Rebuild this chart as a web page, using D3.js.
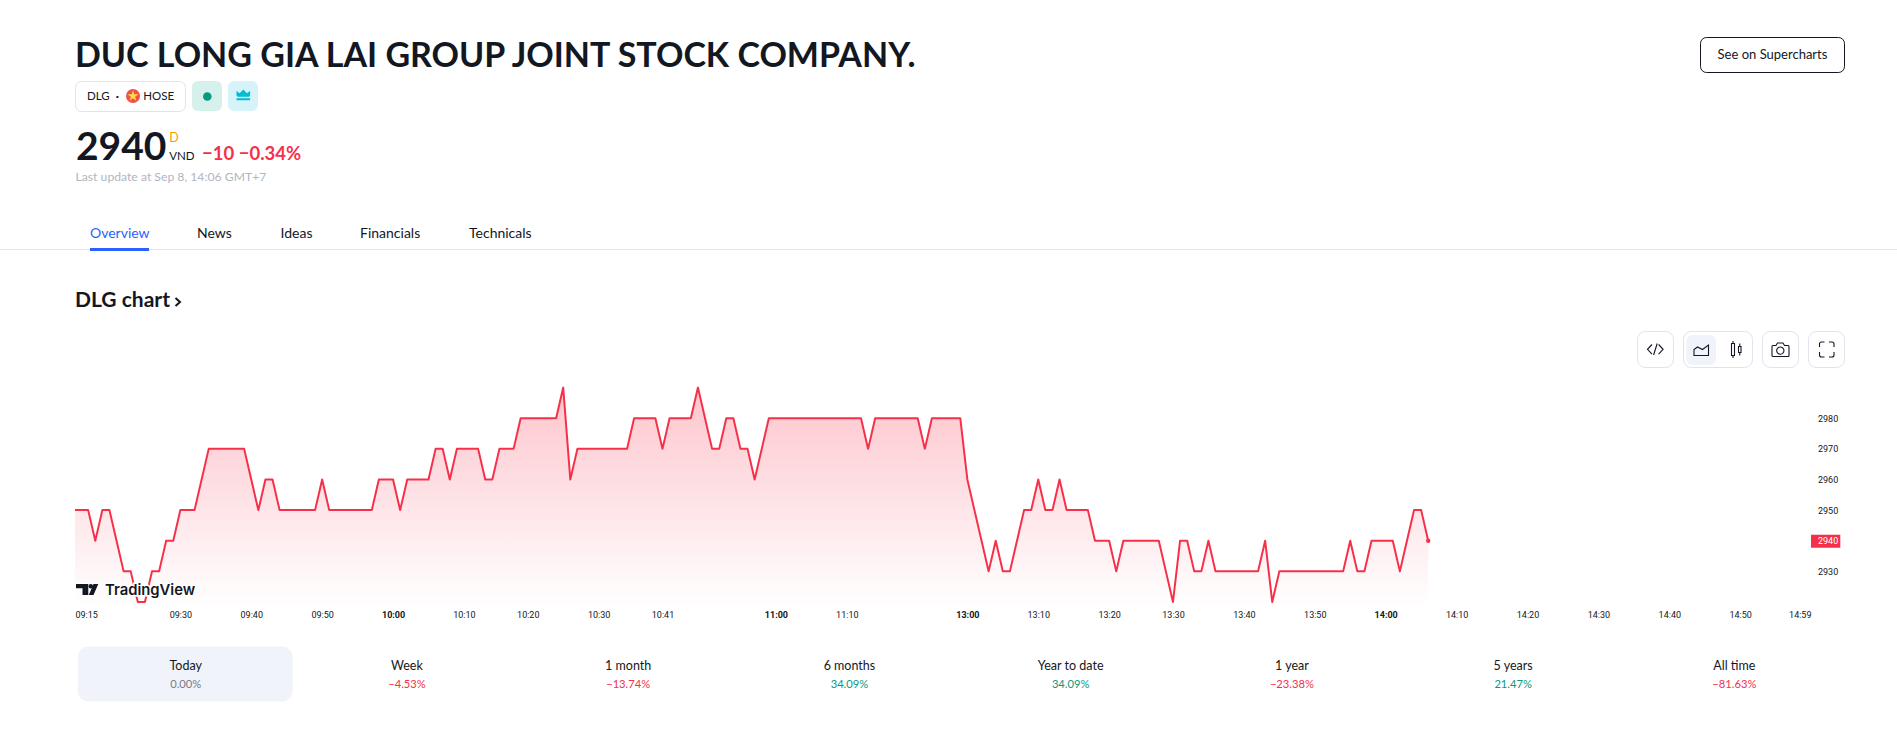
<!DOCTYPE html>
<html>
<head>
<meta charset="utf-8">
<script src="https://cdn.jsdelivr.net/npm/d3@7"></script>
<style>
  html, body { margin: 0; padding: 0; background: #fff; overflow: hidden; }
  text { font-family: Lato, sans-serif; fill: #131722; }
  .axis path, .axis line { display: none; }
  .axis text { font-family: Roboto, sans-serif; font-size: 9px; fill: #131722; }
</style>
</head>
<body>
<div id="chart"></div>
<script>
// one price per traded minute
const prices = [
  2950, 2950, 2950, 2940, 2950, 2950, 2940, 2930, 2930, 2920,
  2920, 2930, 2930, 2940, 2940, 2950, 2950, 2950, 2960, 2970,
  2970, 2970, 2970, 2970, 2970, 2960, 2950, 2960, 2960, 2950,
  2950, 2950, 2950, 2950, 2950, 2960, 2950, 2950, 2950, 2950,
  2950, 2950, 2950, 2960, 2960, 2960, 2950, 2960, 2960, 2960,
  2960, 2970, 2970, 2960, 2970, 2970, 2970, 2970, 2960, 2960,
  2970, 2970, 2970, 2980, 2980, 2980, 2980, 2980, 2980, 2990,
  2960, 2970, 2970, 2970, 2970, 2970, 2970, 2970, 2970, 2980,
  2980, 2980, 2980, 2970, 2980, 2980, 2980, 2980, 2990, 2980,
  2970, 2970, 2980, 2980, 2970, 2970, 2960, 2970, 2980, 2980,
  2980, 2980, 2980, 2980, 2980, 2980, 2980, 2980, 2980, 2980,
  2980, 2980, 2970, 2980, 2980, 2980, 2980, 2980, 2980, 2980,
  2970, 2980, 2980, 2980, 2980, 2980, 2960, 2950, 2940, 2930,
  2940, 2930, 2930, 2940, 2950, 2950, 2960, 2950, 2950, 2960,
  2950, 2950, 2950, 2950, 2940, 2940, 2940, 2930, 2940, 2940,
  2940, 2940, 2940, 2940, 2930, 2920, 2940, 2940, 2930, 2930,
  2940, 2930, 2930, 2930, 2930, 2930, 2930, 2930, 2940, 2920,
  2930, 2930, 2930, 2930, 2930, 2930, 2930, 2930, 2930, 2930,
  2940, 2930, 2930, 2940, 2940, 2940, 2940, 2930, 2940, 2950,
  2950, 2940,
];

// time axis: bar position of every label
const timeTicks = [0, 15, 25, 35, 45, 55, 64, 74, 83, 99, 109, 126, 136, 146, 155, 165, 175, 185, 195, 205, 215, 225, 235, 244];
const timeLabels = ['09:15', '09:30', '09:40', '09:50', '10:00', '10:10', '10:20', '10:30', '10:41', '11:00', '11:10', '13:00', '13:10', '13:20', '13:30', '13:40', '13:50', '14:00', '14:10', '14:20', '14:30', '14:40', '14:50', '14:59'];
const boldLabels = ['10:00', '11:00', '13:00', '14:00'];
const priceTicks = [2930, 2940, 2950, 2960, 2970, 2980];
const lastPrice = 2940;

const tabs = ['Overview', 'News', 'Ideas', 'Financials', 'Technicals'];
const tabStarts = [90, 197, 280.5, 360, 469];

const periods = ['Today', 'Week', '1 month', '6 months', 'Year to date', '1 year', '5 years', 'All time'];
const periodChanges = [0, -4.53, -13.74, 34.09, 34.09, -23.38, 21.47, -81.63];

const RED = '#f7304a';
const GREEN = '#089981';
const DARK = '#131722';
const BORDER = '#e0e3eb';

const svg = d3
  .select('#chart')
  .append('svg')
  .attr('width', 1897)
  .attr('height', 754)
  .style('display', 'block');

const label = (x, y, text, size, weight = 400, fill = DARK, anchor = 'start') =>
  svg
    .append('text')
    .attr('x', x)
    .attr('y', y)
    .attr('font-size', size)
    .attr('font-weight', weight)
    .attr('text-anchor', anchor)
    .style('fill', fill)
    .text(text);

const box = (x, y, w, h, r, fill, stroke) =>
  svg
    .append('rect')
    .attr('x', x)
    .attr('y', y)
    .attr('width', w)
    .attr('height', h)
    .attr('rx', r)
    .attr('fill', fill)
    .attr('stroke', stroke || 'none');

// header
label(75, 66.7, 'DUC LONG GIA LAI GROUP JOINT STOCK COMPANY.', 34, 700);

box(75.5, 81.5, 110, 30, 6, '#fff', BORDER);
label(87, 100, 'DLG', 11.5);
label(117.3, 100, '·', 12, 700, DARK, 'middle');
svg.append('circle').attr('cx', 133).attr('cy', 96).attr('r', 7).attr('fill', '#f2504b');
svg
  .append('path')
  .attr('d', d3.symbol(d3.symbolStar, 38)())
  .attr('transform', 'translate(133, 96)')
  .attr('fill', '#ffd84a');
label(143.3, 100, 'HOSE', 11.5);

box(192, 81, 30, 30, 6, '#d6f0ec');
svg.append('circle').attr('cx', 207.3).attr('cy', 96.5).attr('r', 4.3).attr('fill', GREEN);
box(228, 81, 30, 30, 6, '#d6f3f9');
svg
  .append('path')
  .attr('d', 'M236.5 95.5l0-4.5 3.2 2.2 3.6-3.7 3.6 3.7 3.2-2.2 0 4.5-1 1.2h-11.6zM236.5 98.3h13.6v2h-13.6z')
  .attr('fill', '#00bcd4');

label(76, 160, '2940', 39, 700);
label(169.3, 142, 'D', 12.5, 400, '#ff9800');
label(169.3, 160, 'VND', 11.5);
label(202, 160, '−10 −0.34%', 18.5, 700, RED);
label(75.5, 181, 'Last update at Sep 8, 14:06 GMT+7', 12.2, 400, '#b2b5be');

box(1700.5, 37.5, 144, 35, 6, '#fff', DARK);
label(1772.5, 59, 'See on Supercharts', 13, 400, DARK, 'middle');

// tabs
tabs.forEach((tab, i) => {
  label(tabStarts[i], 238, tab, 14, 400, i === 0 ? '#2962ff' : DARK);
});
svg.append('rect').attr('x', 0).attr('y', 249).attr('width', 1897).attr('height', 1).attr('fill', BORDER);
svg.append('rect').attr('x', 90).attr('y', 248).attr('width', 59).attr('height', 3).attr('fill', '#2962ff');

label(75, 307, 'DLG chart', 21, 700);
svg
  .append('path')
  .attr('d', 'M175.500 298l4.500 4-4.500 4')
  .attr('fill', 'none')
  .attr('stroke', DARK)
  .attr('stroke-width', 2);

// chart toolbar
box(1637.5, 331.5, 36, 36, 8, '#fff', BORDER);
box(1683.5, 331.5, 69, 36, 8, '#fff', BORDER);
box(1686.5, 335, 29.5, 30, 6, '#f0f3fa');
box(1762.5, 331.5, 36, 36, 8, '#fff', BORDER);
box(1808.5, 331.5, 36, 36, 8, '#fff', BORDER);

const icon = (d) =>
  svg
    .append('path')
    .attr('d', d)
    .attr('fill', 'none')
    .attr('stroke', DARK)
    .attr('stroke-width', 1.1);

icon('M1652 344.5l-4.5 4.8 4.5 4.8M1658.6 344.5l4.5 4.8-4.5 4.8M1657.2 343.5l-3.6 11.5');
icon('M1694 355.5v-6l3.5-2.5 5 2.5 6-4.5v10.5z');
icon('M1731.5 343.5h3v12h-3zM1733 341v2.5M1733 355.5v2.5M1738.5 346.5h2.5v6h-2.5zM1739.8 343.5v3M1739.8 352.5v3');
icon('M1772.5 345.5h3.5l1.5-2.5h5.5l1.5 2.5h3.5a1 1 0 0 1 1 1v9a1 1 0 0 1-1 1h-15a1 1 0 0 1-1-1v-9a1 1 0 0 1 1-1z');
icon('M1780.3 347a3.6 3.6 0 1 0 .01 0');
icon('M1819.5 347v-3a2 2 0 0 1 2-2h3M1829 342h3a2 2 0 0 1 2 2v3M1834 352v3a2 2 0 0 1-2 2h-3M1824.500 357h-3a2 2 0 0 1-2-2v-3');

// scales
const xScale = d3.scaleLinear().domain([0, 244]).range([74, 1804]);
const yScale = d3.scaleLinear().domain([2920, 2990]).range([602, 387.6]);
const paneLeft = 75;
const paneRight = 1811;
const paneBottom = 606;

const defs = svg.append('defs');
defs
  .append('clipPath')
  .attr('id', 'pane')
  .append('rect')
  .attr('x', paneLeft)
  .attr('y', 380)
  .attr('width', paneRight - paneLeft)
  .attr('height', paneBottom - 380);

const gradient = defs
  .append('linearGradient')
  .attr('id', 'areaFill')
  .attr('gradientUnits', 'userSpaceOnUse')
  .attr('x1', 0)
  .attr('x2', 0)
  .attr('y1', yScale(2990))
  .attr('y2', paneBottom);
gradient.append('stop').attr('offset', 0).attr('stop-color', RED).attr('stop-opacity', 0.28);
gradient.append('stop').attr('offset', 1).attr('stop-color', RED).attr('stop-opacity', 0);

const area = d3
  .area()
  .x((d, i) => xScale(i))
  .y0(paneBottom)
  .y1((d) => yScale(d));
const line = d3
  .line()
  .x((d, i) => xScale(i))
  .y((d) => yScale(d));

const plot = svg.append('g').attr('clip-path', 'url(#pane)');
plot.append('path').datum(prices).attr('d', area).attr('fill', 'url(#areaFill)');
plot
  .append('path')
  .datum(prices)
  .attr('d', line)
  .attr('fill', 'none')
  .attr('stroke', RED)
  .attr('stroke-width', 2)
  .attr('stroke-linejoin', 'round');
svg
  .append('circle')
  .attr('cx', xScale(prices.length - 1))
  .attr('cy', yScale(prices[prices.length - 1]))
  .attr('r', 2.2)
  .attr('fill', RED);

// logo sits on top of the line with a white halo
const logo = svg.append('g').attr('transform', 'translate(76, 584)');
logo
  .append('path')
  .attr('d', 'M0 0H12.300V11H6.500V4.300H0ZM22.300 0L17.500 11H12.800L17.500 0Z')
  .attr('fill', DARK)
  .attr('stroke', '#fff')
  .attr('stroke-width', 2)
  .attr('paint-order', 'stroke');
logo.append('circle').attr('cx', 14.8).attr('cy', 2.2).attr('r', 2.2).attr('fill', DARK);
logo
  .append('text')
  .attr('x', 29)
  .attr('y', 11)
  .attr('font-size', 14.8)
  .attr('font-weight', 600)
  .attr('stroke', '#fff')
  .attr('stroke-width', 3)
  .attr('paint-order', 'stroke')
  .style('font-family', 'Inter, sans-serif')
  .text('TradingView');

// axes
const xAxis = d3
  .axisBottom(xScale)
  .tickValues(timeTicks)
  .tickSize(0)
  .tickPadding(0)
  .tickFormat((d, i) => timeLabels[i]);
const xAxisGroup = svg.append('g').attr('class', 'axis').attr('transform', 'translate(0, 612)').call(xAxis);
xAxisGroup
  .selectAll('text')
  .attr('font-weight', (d, i) => (boldLabels.includes(timeLabels[i]) ? 700 : 400))
  .attr('text-anchor', (d, i) => (i === 0 ? 'start' : i === timeLabels.length - 1 ? 'end' : 'middle'))
  .attr('dx', (d, i) => (i === 0 ? paneLeft - xScale(d) : i === timeLabels.length - 1 ? paneRight - xScale(d) : 0));

const yAxis = d3
  .axisRight(yScale)
  .tickValues(priceTicks.filter((d) => d !== lastPrice))
  .tickSize(0)
  .tickPadding(0)
  .tickFormat(d3.format('d'));
svg
  .append('g')
  .attr('class', 'axis')
  .attr('transform', 'translate(1818, 0)')
  .call(yAxis);

// last price tag
box(1811, yScale(lastPrice) - 6, 29.3, 13, 0, RED);
svg
  .append('text')
  .attr('x', 1818)
  .attr('y', yScale(lastPrice) + 3.4)
  .attr('font-size', 9)
  .style('font-family', 'Roboto, sans-serif')
  .style('fill', '#fff')
  .text(lastPrice);

// period performance row
const periodScale = d3.scalePoint().domain(periods).range([185.7, 1734.4]);
box(78, 646.5, 214.5, 55, 10, '#f0f3fa');
periods.forEach((period, i) => {
  const change = periodChanges[i];
  const color = change === 0 ? '#787b86' : change < 0 ? RED : GREEN;
  const text = change < 0 ? `−${Math.abs(change).toFixed(2)}%` : `${change.toFixed(2)}%`;
  label(periodScale(period), 670.3, period, 12.5, 400, DARK, 'middle');
  label(periodScale(period), 688.3, text, 11.2, 400, color, 'middle');
});
</script>
</body>
</html>
